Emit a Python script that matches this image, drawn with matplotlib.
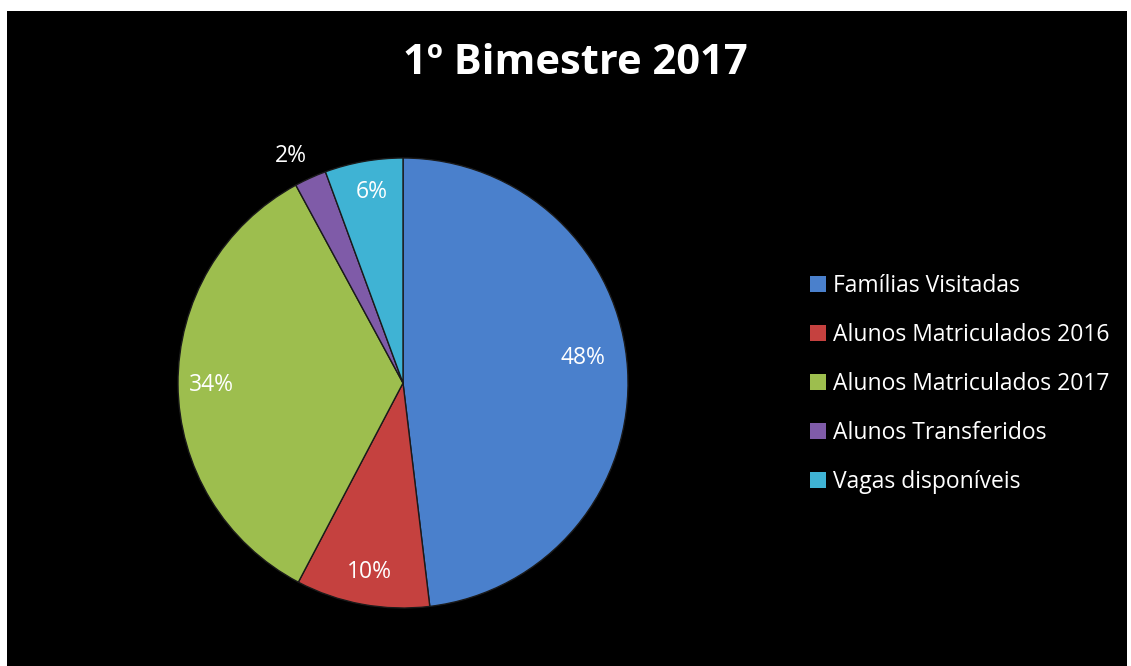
import matplotlib
matplotlib.use("Agg")
import matplotlib.pyplot as plt
from matplotlib.patches import Rectangle, Patch

plt.rcParams['font.family'] = ['Open Sans', 'DejaVu Sans']

# dados (percentuais)
categorias = ["Famílias Visitadas", "Alunos Matriculados 2016", "Alunos Matriculados 2017",
              "Alunos Transferidos", "Vagas disponíveis"]
valores = [48.1, 9.6, 34.4, 2.3, 5.6]
cores = ["#4A80CC", "#C5413F", "#9DBE4E", "#7F5BA8", "#3FB3D4"]

fig = plt.figure(figsize=(11.31, 6.66), dpi=100)
fig.patch.set_facecolor("white")
# área preta do gráfico
fig.add_artist(Rectangle((7 / 1131, 0), 1120 / 1131, 655 / 666, transform=fig.transFigure,
                         facecolor="black", edgecolor="none", zorder=0))

ax = fig.add_axes([(403 - 225) / 1131, (666 - 383 - 225) / 666, 450 / 1131, 450 / 666])
ax.set_facecolor("none")
wedges, textos, pcts = ax.pie(valores, colors=cores, startangle=90, counterclock=False,
                              autopct="%.0f%%", pctdistance=0.8,
                              wedgeprops=dict(edgecolor="#1a1a1a", linewidth=1))
ax.set_xlim(-1, 1)
ax.set_ylim(-1, 1)

for t in pcts:
    t.set_color("white")
    t.set_fontsize(16.5)
# 2% fica fora da fatia
pcts[3].set_position((-0.5, 1.01))
pcts[0].set_position((0.8, 0.11))
pcts[1].set_position((-0.15, -0.84))
pcts[2].set_position((-0.85, -0.01))
pcts[4].set_position((-0.14, 0.85))

fig.text(575 / 1131, 1 - 64 / 666, "1º Bimestre 2017", color="white", fontsize=30,
         fontweight="bold", ha="center", va="center")

handles = [Patch(facecolor=c, edgecolor="none") for c in cores]
leg = fig.legend(handles, categorias, loc="center left", bbox_to_anchor=(789 / 1131, 1 - 384 / 666),
                 frameon=False, fontsize=16.5, labelcolor="white", handlelength=0.7, handleheight=0.7,
                 handletextpad=0.3, labelspacing=1.1)

fig.savefig("out.png", dpi=100, facecolor=fig.get_facecolor())
